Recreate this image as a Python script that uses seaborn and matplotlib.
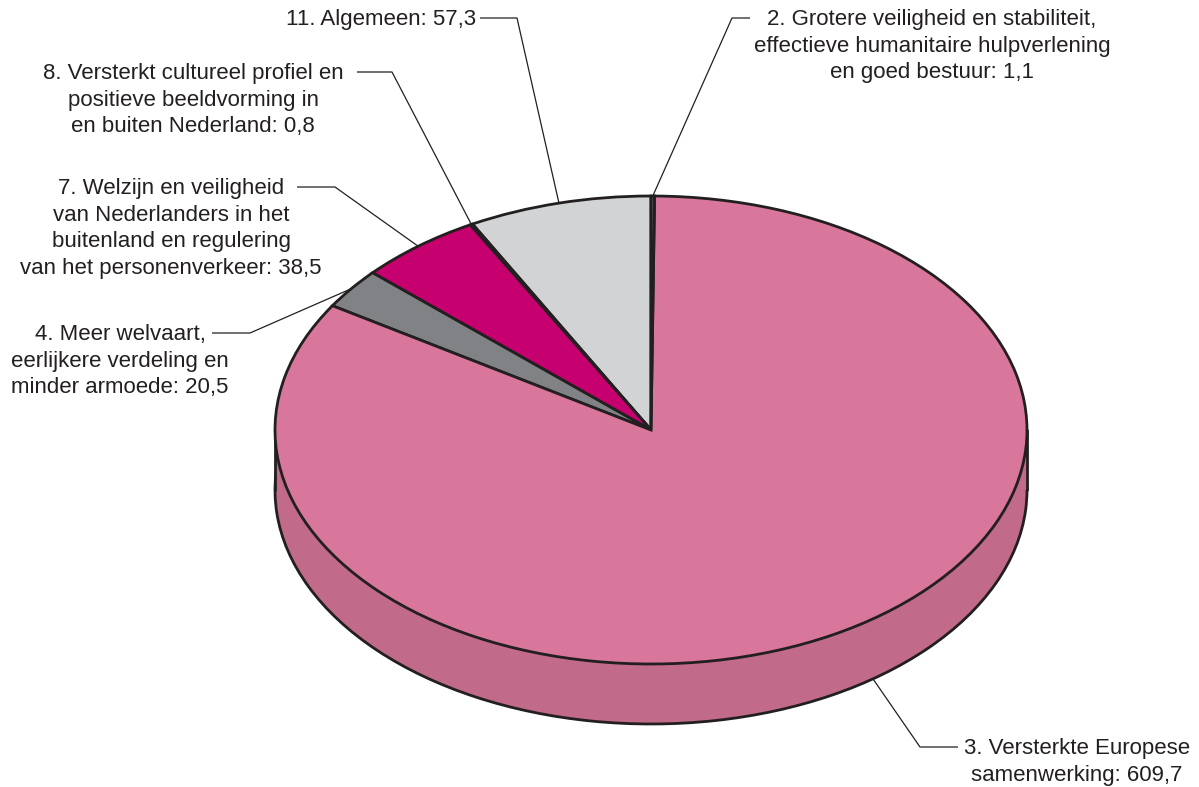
"""
3D-style pie chart: uitgaven per beleidsartikel (Buitenlandse Zaken).
"""

import numpy as np
import matplotlib.pyplot as plt
import seaborn as sns

# data, in pie order (counter-clockwise from 12 o'clock)
labels = [
    "11. Algemeen: 57,3",
    "8. Versterkt cultureel profiel en\npositieve beeldvorming in\nen buiten Nederland: 0,8",
    "7. Welzijn en veiligheid\nvan Nederlanders in het\nbuitenland en regulering\nvan het personenverkeer: 38,5",
    "4. Meer welvaart,\neerlijkere verdeling en\nminder armoede: 20,5",
    "3. Versterkte Europese\nsamenwerking: 609,7",
    "2. Grotere veiligheid en stabiliteit,\neffectieve humanitaire hulpverlening\nen goed bestuur: 1,1",
]
values = [57.3, 0.8, 38.5, 20.5, 609.7, 1.1]
top_colors = ['#d1d3d4', '#414042', '#c6006f', '#808285', '#d8769b', '#58595b']
side_colors = ['#a7a9ac', '#231f20', '#9e0059', '#66686a', '#c16a8a', '#464749']

# layout (pixels in the 1199x787 picture)
W, H = 1199, 787
CX, CY, RX, RY = 651, 430, 376, 234
DEPTH = 60 / RY
EDGE = '#231f20'
TEXT = '#231f20'

# text x, first line centre y, ha, leader line x0, x1 (horizontal part)
label_layout = [
    (476, 18, 'right', 480, 517),
    (193, 72, 'center', 357, 392),
    (171, 187, 'center', 297, 335),
    (120, 333, 'center', 212, 250),
    (1077, 747, 'center', 958, 920),
    (932, 18, 'center', 750, 732),
]
anchor_shift = [0, 0, 0, 0, 7.5, 0]  # degrees, where the leader meets the pie


def px_x(px):
    return (px - CX) / RX


def px_y(py):
    return (CY - py) / RY


sns.set_theme(style='white')
plt.rcParams['font.family'] = ['Liberation Sans', 'DejaVu Sans']

fig = plt.figure(figsize=(W / 100, H / 100), dpi=100)
ax = fig.add_axes([0, 0, 1, 1])

# side wall: lower pie + band between the two ellipses
bottom, _ = ax.pie(values, colors=side_colors, startangle=90, counterclock=True,
                   center=(0, -DEPTH), radius=1,
                   wedgeprops=dict(edgecolor=EDGE, linewidth=2))
for w in bottom:
    w.set_zorder(1)
ax.fill_between([-1, 1], -DEPTH, 0, color=side_colors[4], lw=0, zorder=2)
ax.plot([-1, -1], [0, -DEPTH], color=EDGE, lw=2, zorder=2.5)
ax.plot([1, 1], [0, -DEPTH], color=EDGE, lw=2, zorder=2.5)

# top face
top, _ = ax.pie(values, colors=top_colors, startangle=90, counterclock=True,
                center=(0, 0), radius=1,
                wedgeprops=dict(edgecolor=EDGE, linewidth=2))
for w in top:
    w.set_zorder(3)

# labels and leader lines
total = sum(values)
start = 90.0
for lab, val, lay, shift in zip(labels, values, label_layout, anchor_shift):
    span = val / total * 360
    mid = np.deg2rad(start + span / 2 + shift)
    start += span
    ax_, ay_ = np.cos(mid), np.sin(mid)
    if ay_ < 0:
        ay_ -= DEPTH
    tx, ty, ha, lx0, lx1 = lay
    ax.plot([px_x(lx0), px_x(lx1), ax_], [px_y(ty), px_y(ty), ay_],
            color=EDGE, lw=0.9, zorder=4, solid_capstyle='butt')
    ax.text(px_x(tx), px_y(ty - 9), lab, ha=ha, va='top', ma='center',
            fontsize=16, color=TEXT, linespacing=1.35, zorder=5)

ax.set_aspect('auto')
ax.set_xlim(px_x(0), px_x(W))
ax.set_ylim(px_y(H), px_y(0))
ax.axis('off')

plt.savefig('out.png', dpi=100)
